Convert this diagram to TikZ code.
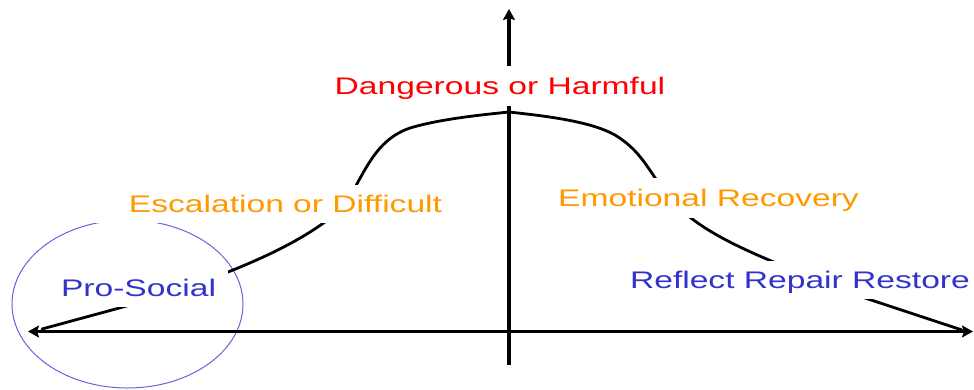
\documentclass[tikz,border=0pt]{standalone}
\usepackage{fontspec}
\setmainfont{Liberation Sans}
\usetikzlibrary{arrows.meta}
\definecolor{dred}{RGB}{255,0,0}
\definecolor{dorange}{RGB}{255,153,0}
\definecolor{dblue}{RGB}{51,51,204}
\definecolor{cblue}{RGB}{100,100,225}
\newcommand{\widetext}[1]{\scalebox{1.4}[1]{#1}}
\begin{document}
\begin{tikzpicture}[x=1pt,y=-1pt,
  lbl/.style={fill=white, font=\fontsize{24}{28}\selectfont, text height=17.2pt, text depth=0pt, inner ysep=0pt, minimum height=38pt},
  axisline/.style={line width=3.2pt, arrows={Stealth[length=11pt,width=12pt,inset=2pt]-Stealth[length=11pt,width=12pt,inset=2pt]}},
  vaxis/.style={line width=3.4pt, arrows={-Stealth[length=11pt,width=12pt,inset=2pt]}},
  bell/.style={line width=2.8pt, line join=round, line cap=round},
  ring/.style={draw=cblue, line width=1pt}]
\useasboundingbox (0,0) rectangle (974,389);
% circle around Pro-Social
\draw[ring] (127.5,304) ellipse [x radius=115.5pt, y radius=84pt];
% bell curve
\draw[bell] (42,329) -- (123,307)
  .. controls (200,285) and (300,250) .. (345,205)
  .. controls (365,172) and (375,140) .. (410,128)
  .. controls (440,119) and (480,115) .. (509,112)
  .. controls (545,116) and (590,121) .. (615,135)
  .. controls (638,149) and (646,165) .. (660,185)
  .. controls (690,230) and (740,250) .. (862,297)
  -- (962,330);
% axes
\coordinate (xl) at (28,331.5);
\coordinate (xr) at (973,331.5);
\coordinate (yb) at (509,365);
\coordinate (yt) at (509,9);
\draw[axisline] (xl) -- (xr);
\draw[vaxis] (yb) -- (yt);
% labels
\node[lbl, text=dred, minimum height=40pt, inner xsep=4pt] (dang) at (500,86) {\widetext{Dangerous or Harmful}};
\node[lbl, text=dorange, inner xsep=45pt] (esc) at (285.5,204) {\widetext{Escalation or Difficult}};
\node[lbl, text=dblue, inner xsep=12pt] (pro) at (138.5,288) {\widetext{Pro-Social}};
\node[lbl, text=dorange, minimum height=40pt, inner xsep=6pt] (emo) at (708.5,197.5) {\widetext{Emotional Recovery}};
\node[lbl, text=dblue, inner xsep=4pt] (ref) at (800,280) {\widetext{Reflect Repair Restore}};
\end{tikzpicture}
\end{document}
